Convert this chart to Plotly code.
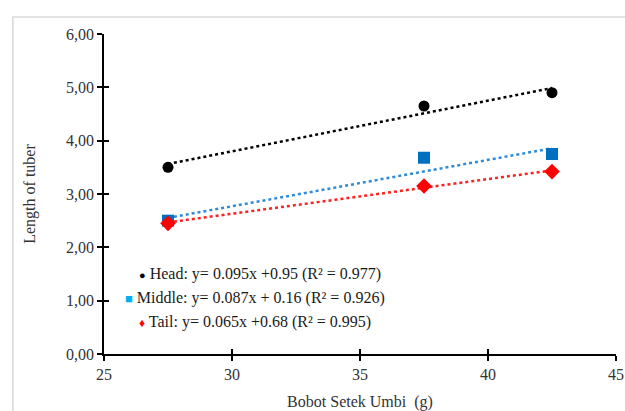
import plotly.graph_objects as go

# ---- data ----
series_names = ["Head", "Middle", "Tail"]
x_weight = [27.5, 37.5, 42.5]
head_len = [3.50, 4.65, 4.90]
middle_len = [2.50, 3.68, 3.75]
tail_len = [2.45, 3.15, 3.42]
slopes = [0.095, 0.087, 0.065]
intercepts = [0.95, 0.16, 0.68]
r2 = [0.977, 0.926, 0.995]
x_ticks = [25, 30, 35, 40, 45]
y_ticks = [0, 1, 2, 3, 4, 5, 6]

values = [head_len, middle_len, tail_len]
marker_colors = ["#000000", "#0070C0", "#FF0000"]
line_colors = ["#000000", "#2E8BDA", "#FF2020"]
symbols = ["circle", "square", "diamond"]
msizes = [11, 12, 12]

FONT = "Liberation Serif"
TXT = "#333333"

fig = go.Figure()
xmin, xmax = min(x_weight), max(x_weight)
for i, name in enumerate(series_names):
    fig.add_trace(go.Scatter(
        x=[xmin, xmax],
        y=[slopes[i] * xmin + intercepts[i], slopes[i] * xmax + intercepts[i]],
        mode="lines", line=dict(color=line_colors[i], width=2.5, dash="dot"),
        showlegend=False, hoverinfo="skip"))
for i, name in enumerate(series_names):
    fig.add_trace(go.Scatter(
        x=x_weight, y=values[i], mode="markers", name=name,
        marker=dict(symbol=symbols[i], size=msizes[i], color=marker_colors[i]),
        showlegend=False))

# invisible trace on overlay axes so they render
fig.add_trace(go.Scatter(x=[x_ticks[0]], y=[y_ticks[0]], xaxis="x2", yaxis="y2",
                         mode="markers", marker=dict(opacity=0), showlegend=False,
                         hoverinfo="skip"))

# legend text as annotations
legend_syms = ["<span style='color:#000000;font-size:11px'>●</span>",
               "<span style='color:#00B0F0;font-size:13px'>■</span>",
               "<span style='color:#FF0000;font-size:12px'>♦</span>"]
leg_x = [26.3, 25.75, 26.3]
leg_y = [1.50, 1.05, 0.60]
for i, name in enumerate(series_names):
    sep = " + " if name == "Middle" else " +"
    txt = f"{legend_syms[i]} {name}: y= {slopes[i]:.3f}x{sep}{intercepts[i]:.2f} (R² = {r2[i]:.3f})"
    fig.add_annotation(x=leg_x[i], y=leg_y[i], xref="x", yref="y", text=txt,
                       showarrow=False, xanchor="left", yanchor="middle",
                       font=dict(family=FONT, size=16, color="#1a1a1a"))

# outer light frame
fig.add_shape(type="rect", xref="paper", yref="paper",
              x0=-0.178, x1=1.2, y0=-0.4, y1=1.053,
              line=dict(color="#D9D9D9", width=1.5), layer="below")

axis_common = dict(showgrid=False, zeroline=False, automargin=False)
fig.update_layout(
    width=625, height=411,
    margin=dict(l=104, r=9, t=34, b=57, autoexpand=False),
    paper_bgcolor="white", plot_bgcolor="white",
    separators=",.",
    showlegend=False,
    font=dict(family=FONT, color=TXT),
    xaxis=dict(range=[25, 45], tickvals=x_ticks, ticks="outside", ticklen=5,
               tickwidth=1.5, tickcolor="black", showline=True, linecolor="black",
               linewidth=1.5, tickfont=dict(size=16, family=FONT, color=TXT),
               title=dict(text="Bobot Setek Umbi  (g)", standoff=17,
                          font=dict(size=16, family=FONT, color=TXT)),
               **axis_common),
    yaxis=dict(range=[0, 6], tickvals=y_ticks, tickformat=".2f", ticks="outside",
               ticklen=5, tickwidth=1.5, tickcolor="black", showline=True,
               linecolor="black", linewidth=1.5,
               tickfont=dict(size=16, family=FONT, color=TXT),
               title=dict(text="Length of tuber", standoff=26,
                          font=dict(size=16, family=FONT, color=TXT)),
               **axis_common),
    xaxis2=dict(range=[25, 45], tickvals=x_ticks, overlaying="x", side="bottom",
                anchor="y2", ticks="inside", ticklen=5, tickwidth=1.5,
                tickcolor="black", showticklabels=False, showline=False,
                **axis_common),
    yaxis2=dict(range=[0, 6], tickvals=y_ticks, overlaying="y", side="left",
                anchor="x2", ticks="inside", ticklen=5, tickwidth=1.5,
                tickcolor="black", showticklabels=False, showline=False,
                **axis_common),
)

# remove the page's default body margin and scrollbars so the figure fills the window
fig.write_html("out.html",
               config={"displayModeBar": False},
               post_script="document.body.style.margin='0';"
                           "document.body.style.overflow='hidden';")
